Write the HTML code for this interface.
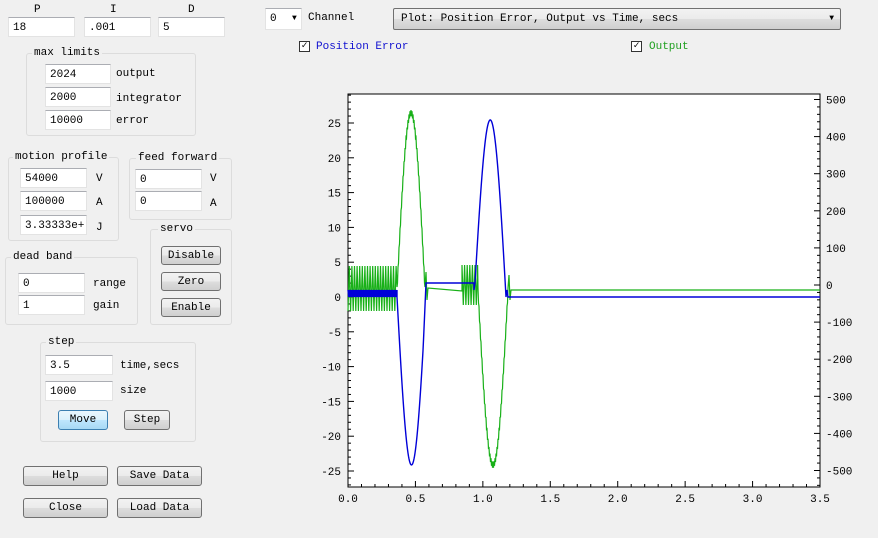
<!DOCTYPE html>
<html><head><meta charset="utf-8"><style>
body{margin:0;width:878px;height:538px;background:#f0f0f0;position:relative;overflow:hidden;font-family:"Liberation Mono",monospace;font-size:11px;color:#000}
.a{position:absolute}
.in{position:absolute;background:#fff;border:1px solid #e3e3e3;border-top-color:#abadb3;line-height:20px;padding-left:4px;box-sizing:border-box;height:20px;white-space:nowrap;overflow:hidden}
.g{position:absolute;border:1px solid #dcdcdc;border-radius:3px;box-sizing:border-box}
.gt{position:absolute;background:#f0f0f0;padding:0 2px;top:-8px;left:5px;line-height:14px}
.b{position:absolute;border:1px solid #707070;border-radius:3px;background:linear-gradient(#f2f2f2,#ebebeb 50%,#dddddd 51%,#cfcfcf);box-sizing:border-box;text-align:center;line-height:18px}
.l{position:absolute;line-height:14px}
.cb{position:absolute;width:11px;height:11px;border:1px solid #333;background:#fff;box-sizing:border-box;font-size:10px;line-height:9px;text-align:center;font-weight:bold}
</style></head><body>
<div class="l" style="left:34px;top:3px">P</div>
<div class="l" style="left:110px;top:3px">I</div>
<div class="l" style="left:188px;top:3px">D</div>
<div class="in" style="left:8px;top:17px;width:67px">18</div>
<div class="in" style="left:84px;top:17px;width:67px">.001</div>
<div class="in" style="left:158px;top:17px;width:67px">5</div>

<div class="g" style="left:26px;top:53px;width:170px;height:83px"><div class="gt">max limits</div></div>
<div class="in" style="left:45px;top:64px;width:66px">2024</div>
<div class="in" style="left:45px;top:87px;width:66px">2000</div>
<div class="in" style="left:45px;top:110px;width:66px">10000</div>
<div class="l" style="left:116px;top:67px">output</div>
<div class="l" style="left:116px;top:92px">integrator</div>
<div class="l" style="left:116px;top:114px">error</div>

<div class="g" style="left:8px;top:157px;width:111px;height:84px"><div class="gt" style="left:4px">motion profile</div></div>
<div class="in" style="left:20px;top:168px;width:67px">54000</div>
<div class="in" style="left:20px;top:191px;width:67px">100000</div>
<div class="in" style="left:20px;top:215px;width:67px">3.33333e+</div>
<div class="l" style="left:96px;top:172px">V</div>
<div class="l" style="left:96px;top:196px">A</div>
<div class="l" style="left:96px;top:221px">J</div>

<div class="g" style="left:129px;top:158px;width:103px;height:62px"><div class="gt" style="left:6px">feed forward</div></div>
<div class="in" style="left:135px;top:169px;width:67px">0</div>
<div class="in" style="left:135px;top:191px;width:67px">0</div>
<div class="l" style="left:210px;top:172px">V</div>
<div class="l" style="left:210px;top:197px">A</div>

<div class="g" style="left:150px;top:229px;width:82px;height:96px"><div class="gt" style="left:7px">servo</div></div>
<div class="b" style="left:161px;top:246px;width:60px;height:19px">Disable</div>
<div class="b" style="left:161px;top:272px;width:60px;height:19px">Zero</div>
<div class="b" style="left:161px;top:298px;width:60px;height:19px">Enable</div>

<div class="g" style="left:5px;top:257px;width:133px;height:68px"><div class="gt">dead band</div></div>
<div class="in" style="left:18px;top:273px;width:67px">0</div>
<div class="in" style="left:18px;top:295px;width:67px">1</div>
<div class="l" style="left:93px;top:277px">range</div>
<div class="l" style="left:93px;top:299px">gain</div>

<div class="g" style="left:40px;top:342px;width:156px;height:100px"><div class="gt">step</div></div>
<div class="in" style="left:45px;top:355px;width:68px">3.5</div>
<div class="in" style="left:45px;top:381px;width:68px">1000</div>
<div class="l" style="left:120px;top:359px">time,secs</div>
<div class="l" style="left:120px;top:384px">size</div>
<div class="b" style="left:58px;top:410px;width:50px;height:20px;border-color:#3c7fb1;background:linear-gradient(#eaf6fd,#d9f0fc 50%,#bee6fd 51%,#a7d9f5)">Move</div>
<div class="b" style="left:124px;top:410px;width:46px;height:20px">Step</div>

<div class="b" style="left:23px;top:466px;width:85px;height:20px">Help</div>
<div class="b" style="left:117px;top:466px;width:85px;height:20px">Save Data</div>
<div class="b" style="left:23px;top:498px;width:85px;height:20px">Close</div>
<div class="b" style="left:117px;top:498px;width:85px;height:20px">Load Data</div>

<div class="in" style="left:265px;top:8px;width:37px;height:22px;line-height:20px">0 <span style="font-size:8px;position:absolute;left:26px">▼</span></div>
<div class="l" style="left:308px;top:11px">Channel</div>
<div class="b" style="left:393px;top:8px;width:448px;height:22px;text-align:left;padding-left:7px;line-height:20px;border-radius:2px">Plot: Position Error, Output vs Time, secs<span style="position:absolute;right:6px;font-size:8px">▼</span></div>
<div class="cb" style="left:299px;top:41px">✓</div>
<div class="l" style="left:316px;top:40px;color:#1010d0">Position Error</div>
<div class="cb" style="left:631px;top:41px">✓</div>
<div class="l" style="left:649px;top:40px;color:#20a020">Output</div>

<svg class="a" style="left:0;top:0" width="878" height="538" id="s" font-family="Liberation Mono, monospace" font-size="11">
<rect x="348" y="94" width="472" height="393" fill="#fff" stroke="#000"/>
<g id="ax"></g>
<polyline id="gr" fill="none" stroke="#18b018" stroke-width="1.2"/>
<polyline id="bl" fill="none" stroke="#0000d8" stroke-width="1.4"/>
</svg>
<script>
var ax=document.getElementById('ax'),h='';
function X(t){return 348+t*472/3.5}
function YL(v){return 297-v*6.96}
function YR(v){return 285-v*0.371}
for(var i=0;i<=35;i++){var x=X(i/10),L=(i%5==0)?6:3;
h+='<line x1="'+x+'" y1="487" x2="'+x+'" y2="'+(487-L)+'" stroke="#000"/>';
if(i%5==0)h+='<text x="'+x+'" y="502" text-anchor="middle">'+(i/10).toFixed(1)+'</text>';}
for(var v=-27;v<=29;v++){var y=YL(v),L=(v%5==0)?6:3;
h+='<line x1="348" y1="'+y+'" x2="'+(348+L)+'" y2="'+y+'" stroke="#000"/>';
if(v%5==0)h+='<text x="341" y="'+(y+4)+'" text-anchor="end">'+v+'</text>';}
for(var v=-540;v<=510;v+=20){var y=YR(v),L=(v%100==0)?6:3;
h+='<line x1="820" y1="'+y+'" x2="'+(820-L)+'" y2="'+y+'" stroke="#000"/>';
if(v%100==0)h+='<text x="826" y="'+(y+4)+'">'+v+'</text>';}
ax.innerHTML=h;
var b=[];
for(var x=348;x<397;x+=0.7){b.push(x+','+(Math.round(x/0.7)%2?290:297));}
for(var x=397;x<=426;x+=0.5){var p=(x-397)/29;b.push(x+','+(297+168*Math.sin(Math.PI*p)-(p>0.9?14*(p-0.9)*10:0)));}
b.push('426,283','474,283','474,290','475,283');
for(var x=475;x<=506;x+=0.5){var p=(x-475)/31;b.push(x+','+(283-170*Math.sin(Math.PI*p)+14*p));}
b.push('506,297','507,290','508,297','820,297');
document.getElementById('bl').setAttribute('points',b.join(' '));
var g=[];
for(var x=348;x<397;x+=1.3){g.push(x+','+(Math.round(x/1.3)%2?266:311));}
for(var x=397;x<=425;x+=0.5){var p=(x-397)/28;g.push(x+','+(290-177*Math.sin(Math.PI*p)+(Math.round(x*2)%2?3:-3)));}
g.push('426,272','427,300','428,288','462,291');
for(var x=462;x<478;x+=1.3){g.push(x+','+(Math.round(x/1.3)%2?265:305));}
for(var x=478;x<=508;x+=0.5){var p=(x-478)/30;g.push(x+','+(291+174*Math.sin(Math.PI*p)+(Math.round(x*2)%2?3:-3)));}
g.push('509,275','510,300','511,290','820,290');
document.getElementById('gr').setAttribute('points',g.join(' '));
</script>
</body></html>
